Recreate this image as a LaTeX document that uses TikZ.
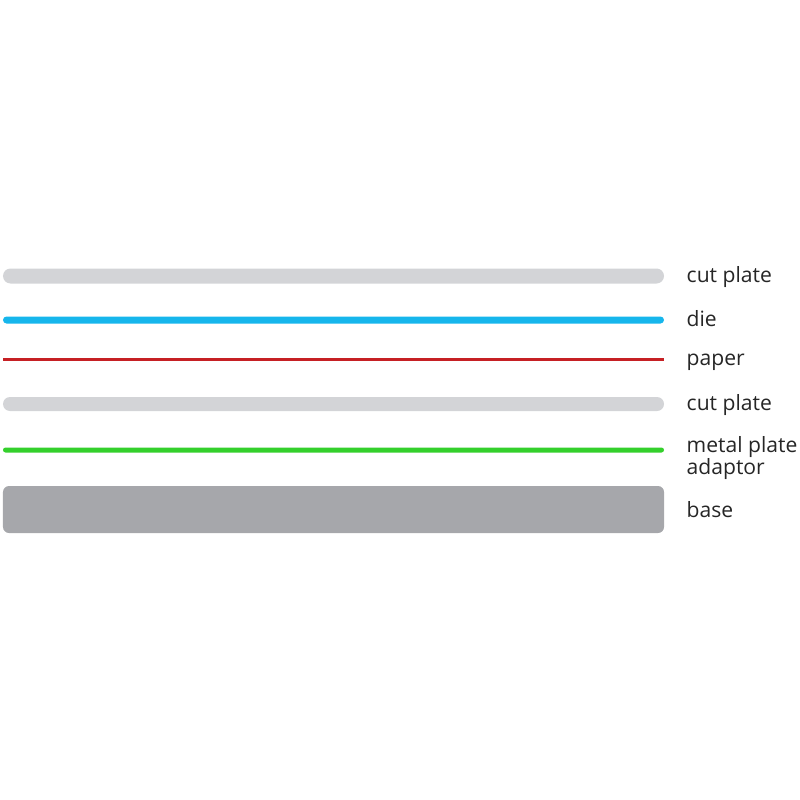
\documentclass[tikz,border=0pt]{standalone}
\usepackage{fontspec}
\setmainfont{Open Sans}
\usetikzlibrary{positioning}

\definecolor{plategray}{RGB}{211,212,215}
\definecolor{dieblue}{RGB}{22,182,236}
\definecolor{paperred}{RGB}{198,32,36}
\definecolor{adaptorgreen}{RGB}{52,208,44}
\definecolor{basegray}{RGB}{166,167,171}

\begin{document}
\begin{tikzpicture}[
      node distance=0.44cm,
      layer/.style={rectangle, inner sep=0pt, minimum width=13.22cm, draw=none},
      tag/.style={inner sep=0pt, align=left, anchor=base west, yshift=-0.13cm,
        font=\fontsize{12pt}{12.6pt}\selectfont, text=black!85}
    ]
      \useasboundingbox (0,0) rectangle (16,-16);

      % Layers, top to bottom
      \node[layer, fill=plategray, minimum height=0.3cm, rounded corners=0.15cm] (cut_top) at (6.67,-5.52) {};
      \node[layer, fill=dieblue, minimum height=0.14cm, rounded corners=0.07cm] (die) at (6.67,-6.40) {};
      \node[layer, fill=paperred, minimum height=0.06cm] (paper) at (6.67,-7.18) {};
      \node[layer, fill=plategray, minimum height=0.28cm, rounded corners=0.14cm] (cut_bottom) at (6.67,-8.08) {};
      \node[layer, fill=adaptorgreen, minimum height=0.1cm, rounded corners=0.05cm] (adaptor) at (6.67,-9.00) {};
      \node[layer, fill=basegray, minimum height=0.94cm, rounded corners=0.12cm] (base) at (6.67,-10.19) {};

      % Labels
      \node[right=of cut_top, tag] (cut_top_tag) {cut plate};
      \node[right=of die, tag] (die_tag) {die};
      \node[right=of paper, tag] (paper_tag) {paper};
      \node[right=of cut_bottom, tag] (cut_bottom_tag) {cut plate};
      \node[right=of adaptor, tag, anchor=north west, yshift=0.41cm] (adaptor_tag) {metal plate\\adaptor};
      \node[right=of base, tag, yshift=-0.02cm] (base_tag) {base};
    \end{tikzpicture}
\end{document}
